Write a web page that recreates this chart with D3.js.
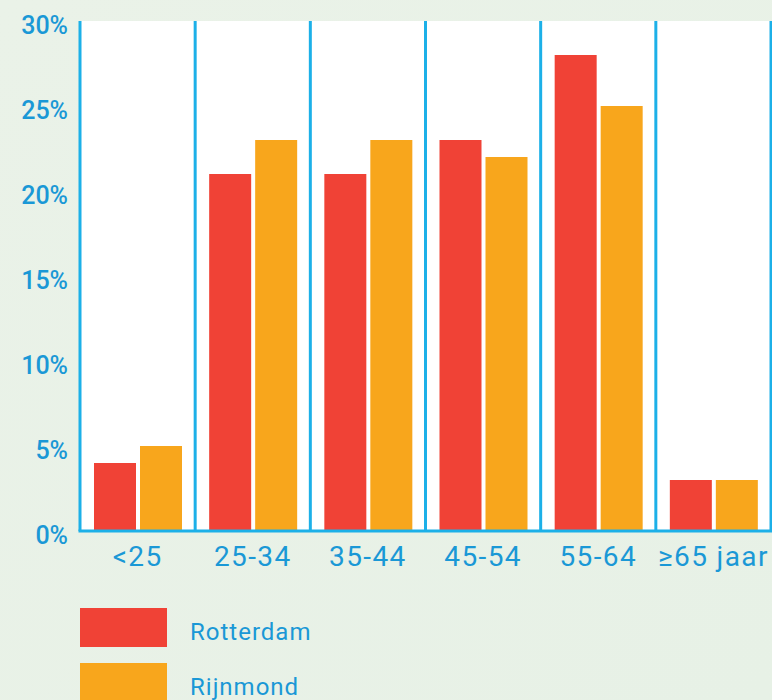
<!DOCTYPE html>
<html>
<head>
<meta charset="utf-8">
<script src="https://cdn.jsdelivr.net/npm/d3@7"></script>
<style>
  html, body { margin: 0; padding: 0; }
  body { width: 772px; height: 700px; overflow: hidden; background: #e9f2e8; }
  svg text { font-family: Roboto, "Liberation Sans", sans-serif; }
</style>
</head>
<body>
<div class="bar-chart"></div>
<script>
// data
const categories = ['<25', '25-34', '35-44', '45-54', '55-64', '≥65 jaar'];
const seriesNames = ['Rotterdam', 'Rijnmond'];
const rotterdam = [4, 21, 21, 23, 28, 3];
const rijnmond = [5, 23, 23, 22, 25, 3];
const yTicks = [0, 5, 10, 15, 20, 25, 30];
const colors = ['#f04236', '#f8a61c'];

const rows = categories.map((c, i) => ({ cat: c, values: [rotterdam[i], rijnmond[i]] }));

const svg_width = 772;
const svg_height = 700;
const chart_margin = { top: 21, right: 1, bottom: 169, left: 80 };
const chart_width = svg_width - (chart_margin.left + chart_margin.right);
const chart_height = svg_height - (chart_margin.top + chart_margin.bottom);

const svg = d3.select('.bar-chart').append('svg')
  .attr('width', svg_width).attr('height', svg_height);

// achtergrond
const defs = svg.append('defs');
const grad = defs.append('linearGradient').attr('id', 'bg').attr('x1', 0).attr('y1', 0).attr('x2', 1).attr('y2', 1);
grad.append('stop').attr('offset', '0%').attr('stop-color', '#eaf2e8');
grad.append('stop').attr('offset', '100%').attr('stop-color', '#e7f1e6');
svg.append('rect').attr('width', svg_width).attr('height', svg_height).attr('fill', 'url(#bg)');

const g = svg.append('g')
  .attr('transform', `translate(${chart_margin.left},${chart_margin.top})`);

// plot vlak
g.append('rect').attr('width', chart_width + 2).attr('height', chart_height).attr('fill', '#ffffff');

const xScale = d3.scaleBand().domain(categories).range([0, chart_width]);
const xInner = d3.scaleBand().domain(seriesNames).range([14, 102]).paddingInner(4 / 46);
const yScale = d3.scaleLinear().domain([0, 30]).range([chart_height, 0]);

// balken
const groups = g.selectAll('.grp').data(rows).enter().append('g')
  .attr('class', 'grp')
  .attr('transform', d => `translate(${xScale(d.cat)},0)`);

groups.selectAll('rect')
  .data(d => d.values.map((v, i) => ({ name: seriesNames[i], v: v, i: i })))
  .enter().append('rect')
  .attr('x', d => xInner(d.name))
  .attr('width', xInner.bandwidth())
  .attr('y', d => yScale(d.v))
  .attr('height', d => chart_height - yScale(d.v))
  .attr('fill', d => colors[d.i]);

// scheidingslijnen
const lineColor = '#1cb0e8';
const bounds = categories.map(c => xScale(c)).concat([chart_width]);
g.selectAll('.sep').data(bounds).enter().append('line')
  .attr('x1', d => d).attr('x2', d => d)
  .attr('y1', 0).attr('y2', chart_height)
  .attr('stroke', lineColor).attr('stroke-width', 3);
g.append('line')
  .attr('x1', -1.5).attr('x2', chart_width + 2)
  .attr('y1', chart_height).attr('y2', chart_height)
  .attr('stroke', lineColor).attr('stroke-width', 3);

// y as
const yAxis = d3.axisLeft(yScale).tickValues(yTicks).tickFormat(d => d + '%').tickSize(0).tickPadding(12);
const yAxisDraw = g.append('g').call(yAxis);
yAxisDraw.select('.domain').remove();
yAxisDraw.selectAll('text')
  .attr('dy', '0.5em')
  .style('font-size', '25px').style('font-weight', '500').style('fill', '#1a98d6');

// x as
const xAxis = d3.axisBottom(xScale).tickSize(0).tickPadding(10);
const xAxisDraw = g.append('g').attr('transform', `translate(0,${chart_height})`).call(xAxis);
xAxisDraw.select('.domain').remove();
xAxisDraw.selectAll('text')
  .attr('dy', '0.9em')
  .style('font-size', '28px').style('letter-spacing', '1.4px').style('fill', '#1a98d6');

// legenda
const legend = svg.append('g').attr('transform', 'translate(80,608)');
const item = legend.selectAll('.leg').data(seriesNames).enter().append('g')
  .attr('transform', (d, i) => `translate(0,${i * 55})`);
item.append('rect').attr('width', 87).attr('height', 39).attr('fill', (d, i) => colors[i]);
item.append('text').attr('x', 110).attr('y', 32).text(d => d)
  .style('font-size', '24px').style('letter-spacing', '1px').style('fill', '#1a98d6');
</script>
</body>
</html>
